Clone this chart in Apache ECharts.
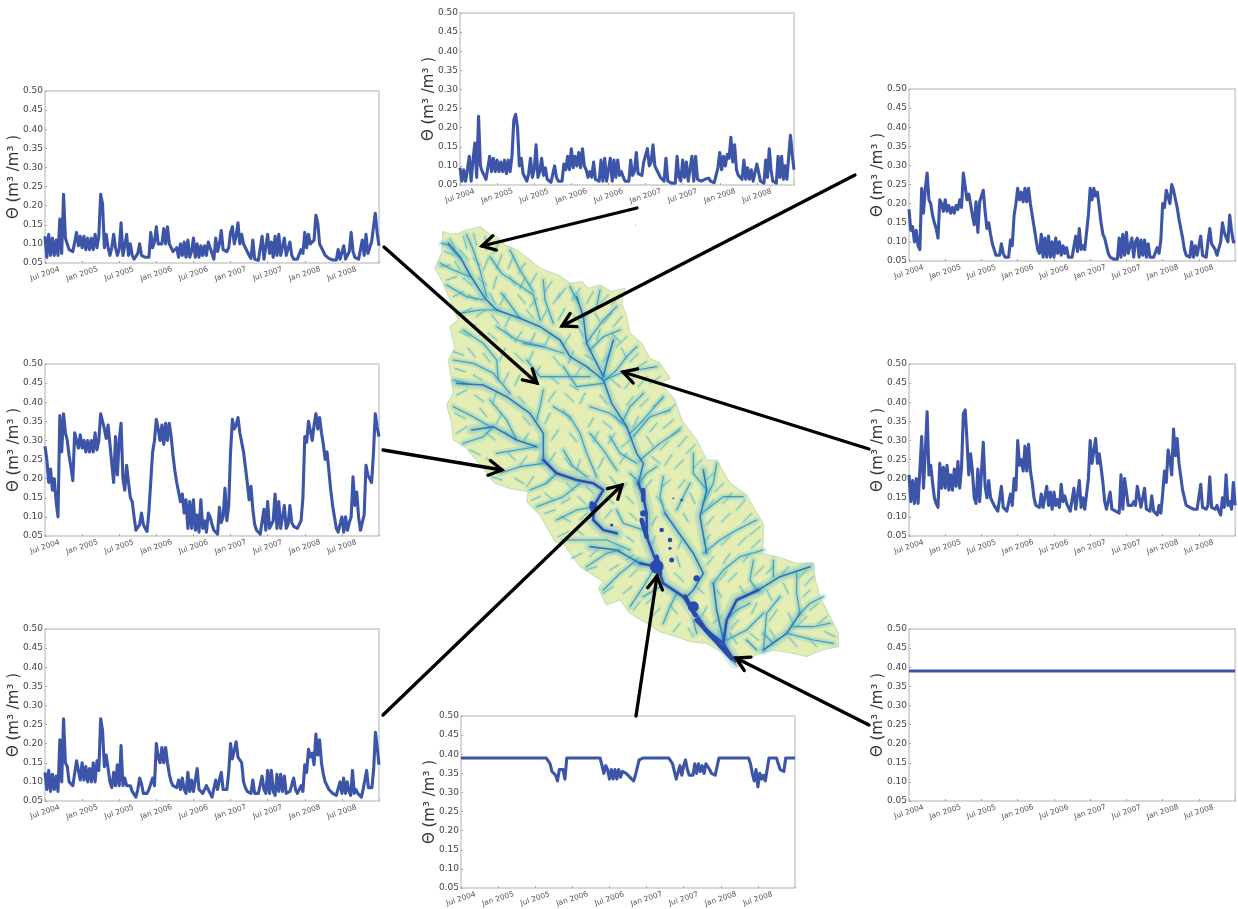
<!DOCTYPE html>
<html><head><meta charset="utf-8">
<style>html,body{margin:0;padding:0;background:#fff;overflow:hidden}#c{width:1238px;height:909px}</style>
<script src="https://cdn.jsdelivr.net/npm/echarts@6/dist/echarts.min.js"></script></head>
<body><div id="c"></div>
<script>
const tickLabels=['Jul 2004','Jan 2005','Jul 2005','Jan 2006','Jul 2006','Jan 2007','Jul 2007','Jan 2008','Jul 2008'];
const yName='Θ (m³ /m³ )';
// each series: one row per half-year, starting Jul 2004
const seriesTopLeft=[
[.12,.065,.125,.07,.115,.07,.11,.07,.165,.075,.23,.115,.115,.085,.08,.08,.085,.13,.095,.12],
[.09,.12,.085,.115,.085,.115,.085,.125,.09,.12,.23,.205,.09,.125,.09,.07,.09,.125,.09,.07],
[.085,.155,.07,.095,.125,.07,.10,.07,.06,.06,.075,.10,.07,.065,.065,.06,.065,.13,.09,.105],
[.145,.10,.105,.10,.14,.10,.145,.10,.09,.08,.075,.09,.065,.10,.07,.105,.065,.11,.065,.08],
[.115,.065,.10,.065,.095,.07,.095,.07,.105,.09,.075,.06,.115,.08,.10,.135,.085,.09,.08,.09],
[.13,.145,.10,.12,.155,.10,.125,.10,.09,.08,.07,.062,.11,.06,.057,.057,.057,.12,.06,.065],
[.125,.075,.105,.065,.12,.07,.125,.07,.065,.115,.07,.065,.105,.07,.06,.06,.06,.065,.085,.075],
[.13,.09,.125,.10,.105,.11,.175,.155,.10,.10,.08,.07,.065,.062,.06,.058,.058,.058,.085,.06],
[.06,.095,.06,.06,.08,.13,.08,.065,.06,.06,.058,.11,.07,.125,.075,.08,.105,.105,.18,.13,.095]];
const seriesTopMid=[
[.095,.06,.09,.06,.09,.125,.06,.115,.16,.07,.23,.10,.085,.075,.065,.062,.125,.085,.12,.085],
[.115,.085,.11,.085,.115,.08,.115,.085,.125,.22,.235,.20,.10,.12,.08,.07,.06,.08,.12,.07],
[.09,.155,.07,.085,.12,.075,.095,.065,.06,.057,.06,.10,.07,.06,.06,.06,.105,.09,.125,.09],
[.145,.095,.125,.10,.135,.095,.145,.10,.09,.07,.085,.07,.11,.065,.06,.06,.115,.06,.12,.06],
[.06,.12,.06,.115,.07,.115,.075,.085,.07,.06,.055,.06,.115,.075,.085,.135,.08,.08,.075,.11],
[.115,.145,.10,.11,.155,.10,.09,.08,.07,.065,.06,.12,.06,.057,.055,.055,.055,.125,.07,.06],
[.115,.07,.11,.06,.065,.125,.06,.125,.065,.065,.06,.062,.065,.062,.068,.06,.058,.056,.06,.095],
[.135,.09,.125,.10,.13,.12,.175,.11,.155,.09,.075,.07,.065,.115,.065,.095,.065,.09,.06,.06],
[.105,.11,.06,.06,.055,.115,.07,.145,.09,.06,.06,.055,.125,.07,.125,.065,.10,.065,.125,.18,.13,.09]];
const seriesMidLeft=[
[.285,.25,.19,.225,.17,.20,.14,.10,.365,.27,.37,.32,.30,.26,.23,.195,.32,.30,.28,.315],
[.28,.30,.27,.30,.27,.30,.27,.32,.275,.30,.37,.37,.33,.305,.34,.29,.24,.19,.31,.21],
[.30,.345,.20,.17,.235,.19,.15,.14,.10,.065,.06,.08,.11,.08,.07,.062,.115,.11,.27,.30],
[.355,.33,.30,.34,.29,.345,.30,.345,.31,.26,.22,.19,.165,.14,.16,.11,.145,.07,.14,.07],
[.145,.065,.105,.06,.145,.07,.09,.06,.11,.10,.08,.065,.06,.055,.125,.085,.10,.175,.09,.13],
[.27,.355,.33,.34,.36,.32,.325,.27,.23,.19,.145,.18,.12,.08,.065,.06,.055,.06,.12,.065],
[.14,.07,.075,.09,.16,.07,.14,.07,.065,.13,.07,.08,.13,.085,.075,.07,.07,.075,.09,.15],
[.31,.295,.35,.345,.30,.34,.37,.33,.36,.32,.29,.25,.27,.22,.17,.13,.10,.07,.06,.06],
[.10,.06,.10,.065,.085,.10,.205,.13,.165,.10,.065,.06,.105,.235,.21,.205,.19,.265,.37,.335,.31]];
const seriesBottomLeft=[
[.125,.08,.13,.075,.12,.08,.115,.075,.21,.10,.265,.15,.14,.10,.095,.09,.085,.155,.13,.105],
[.15,.105,.14,.10,.135,.10,.15,.10,.155,.13,.265,.235,.14,.17,.17,.10,.085,.125,.09,.145],
[.09,.195,.09,.11,.09,.085,.09,.075,.07,.06,.08,.11,.095,.07,.065,.07,.08,.075,.11,.09],
[.20,.165,.15,.19,.15,.19,.15,.12,.10,.09,.085,.085,.105,.08,.11,.08,.07,.125,.075,.105],
[.075,.075,.135,.08,.085,.07,.08,.09,.09,.07,.06,.065,.105,.08,.105,.125,.08,.085,.08,.125],
[.20,.16,.165,.205,.165,.16,.15,.10,.085,.075,.07,.07,.105,.07,.07,.07,.07,.115,.08,.07],
[.13,.07,.13,.075,.065,.12,.075,.12,.075,.115,.07,.075,.075,.075,.11,.08,.07,.075,.09,.075],
[.145,.125,.185,.165,.175,.145,.225,.17,.21,.15,.12,.10,.095,.08,.075,.07,.065,.065,.065,.10],
[.07,.11,.07,.10,.075,.065,.13,.07,.08,.07,.065,.06,.08,.08,.13,.085,.085,.085,.135,.23,.19,.145]];
const seriesTopRight=[
[.185,.13,.14,.10,.13,.09,.08,.24,.175,.24,.28,.21,.20,.17,.15,.135,.11,.21,.20,.18],
[.21,.18,.195,.175,.19,.175,.195,.185,.21,.19,.28,.275,.21,.225,.22,.17,.145,.205,.125,.205],
[.20,.235,.18,.135,.15,.12,.095,.08,.065,.06,.065,.095,.07,.06,.06,.06,.105,.09,.17,.20],
[.24,.21,.23,.205,.24,.205,.24,.20,.17,.14,.11,.08,.07,.12,.06,.11,.06,.115,.06,.10],
[.06,.11,.07,.10,.065,.09,.07,.085,.06,.055,.06,.06,.115,.075,.135,.08,.09,.08,.075,.17],
[.24,.21,.24,.22,.23,.19,.15,.12,.11,.115,.07,.06,.058,.055,.055,.055,.11,.06,.12,.065],
[.125,.07,.065,.11,.06,.10,.11,.06,.105,.065,.105,.06,.095,.06,.065,.06,.06,.085,.07,.105],
[.20,.19,.235,.23,.20,.25,.235,.24,.19,.16,.155,.11,.08,.065,.06,.06,.10,.06,.09,.065],
[.07,.115,.065,.07,.06,.10,.135,.095,.10,.08,.065,.06,.10,.15,.125,.12,.10,.17,.13,.10,.10]];
const seriesMidRight=[
[.21,.14,.195,.135,.20,.135,.13,.31,.175,.27,.375,.21,.235,.19,.15,.135,.125,.24,.175,.23],
[.175,.235,.17,.21,.17,.225,.18,.245,.175,.23,.37,.38,.30,.21,.265,.22,.15,.135,.225,.14],
[.14,.295,.18,.15,.195,.15,.14,.13,.125,.115,.115,.18,.125,.12,.115,.11,.16,.13,.20,.17],
[.30,.235,.25,.22,.285,.22,.29,.22,.19,.15,.13,.13,.125,.16,.125,.12,.18,.13,.165,.12],
[.165,.13,.145,.125,.185,.14,.155,.135,.125,.115,.11,.175,.12,.12,.195,.125,.15,.12,.115,.20],
[.30,.24,.235,.305,.24,.265,.23,.19,.14,.12,.12,.165,.12,.115,.115,.115,.11,.21,.12,.20],
[.20,.13,.125,.13,.14,.13,.18,.185,.125,.12,.175,.12,.125,.115,.155,.115,.11,.105,.13,.11],
[.16,.22,.19,.275,.25,.21,.33,.26,.305,.24,.24,.17,.15,.13,.135,.125,.12,.12,.115,.12],
[.125,.185,.125,.125,.12,.13,.205,.125,.125,.12,.13,.115,.105,.15,.125,.21,.13,.14,.12,.19,.13]];
const seriesBottomMid=[
[.39,.39,.39,.39],
[.39,.39,.39,.39],
[.39,.39,.39,.39,.39,.39,.39,.39,.375,.355,.35,.345,.33,.36,.355,.36,.335,.39,.39,.39],
[.39,.39,.39,.39,.39,.39,.39,.39,.39,.39,.39,.39,.39,.39,.39,.39,.37,.35,.37,.36],
[.335,.36,.335,.36,.335,.36,.34,.355,.355,.35,.345,.34,.335,.33,.345,.35,.385,.39,.39,.39],
[.39,.385,.39,.39,.39,.39,.39,.39,.39,.39,.39,.39,.39,.39,.375,.355,.335,.34,.37,.345],
[.37,.385,.36,.345,.35,.345,.375,.35,.375,.355,.37,.35,.375,.37,.36,.35,.345,.345,.34,.39],
[.39,.39,.39,.39,.39,.39,.39,.39,.39,.39,.39,.39,.39,.39,.39,.39,.375,.35,.33,.36],
[.315,.35,.335,.345,.33,.325,.39,.39,.39,.39,.39,.375,.36,.36,.355,.39,.39,.39,.39,.39,.39]];
const seriesBottomRight=[[.39],[.39],[.39],[.39],[.39],[.39],[.39],[.39],[.39,.39]];

// catchment map, in map units
const mapOutline=[[38,35],[60,42],[85,40],[110,30],[150,20],[175,40],[200,50],[225,75],[260,90],[300,120],[330,145],[385,165],[420,190],[455,185],[475,205],[510,195],[545,215],[585,205],[575,250],[590,290],[600,340],[635,370],[660,415],[690,430],[720,475],[690,490],[735,540],[755,600],[800,660],[830,720],[860,720],[900,790],[950,825],[975,870],[1000,910],[1000,970],[990,1000],[1040,1010],[1100,1030],[1150,1030],[1155,1075],[1170,1130],[1195,1180],[1225,1240],[1225,1280],[1175,1290],[1130,1310],[1090,1300],[1030,1290],[990,1300],[945,1320],[920,1340],[880,1300],[830,1270],[780,1265],[740,1250],[690,1235],[650,1210],[600,1180],[570,1140],[530,1155],[505,1105],[520,1085],[450,1040],[400,970],[375,965],[330,885],[290,845],[295,815],[240,805],[195,790],[160,745],[105,680],[70,660],[65,610],[50,555],[70,520],[65,480],[55,420],[75,385],[60,320],[85,300],[60,240],[40,190],[15,145],[35,100],[38,60]];
const riversThick=[[[680,1010],[690,1060]],[[765,1130],[795,1185]],[[485,850],[490,875]],[[640,810],[640,840]],[[635,900],[650,950]],[[800,1200],[905,1315]]];
const riversMain=[
[[625,790],[640,830],[650,880],[650,950],[680,1030],[700,1090],[760,1130],[790,1170],[830,1230],[880,1270],[915,1325]],
[[340,720],[380,760],[440,780],[490,790],[520,810],[490,860],[490,900],[520,930],[560,940]],
[[630,1030],[680,1040]],[[985,1110],[920,1140],[890,1200],[880,1270]]];
const riversSecondary=[
[[55,70],[90,110],[120,165],[165,235],[200,270],[270,295],[330,320],[390,360],[420,410],[470,440],[520,480],[545,550],[590,620],[620,700],[640,730],[625,790]],
[[80,490],[160,495],[230,530],[300,580],[340,640],[340,720]],[[125,630],[190,620],[260,660],[320,680]],
[[1140,1040],[1050,1070],[985,1110]],[[850,1090],[860,1170],[880,1260]],[[705,880],[740,930],[790,1000],[820,1060],[790,1110],[770,1130]],
[[820,750],[830,810],[810,890],[830,1000]],[[1110,1180],[1070,1240],[1000,1290]],[[480,980],[560,990],[630,1030]],
[[440,230],[460,290],[470,370],[520,470]],[[550,360],[530,430],[520,470]]];
const riversMinor=[
[[35,70],[55,75],[90,115]],[[30,130],[70,150],[120,170]],[[110,45],[130,90],[150,150],[170,230]],[[180,110],[215,160],[260,190],[310,225],[330,300]],[[240,90],[270,150],[310,215]],[[50,195],[110,230],[160,240]],[[90,280],[150,270],[205,270]],[[215,220],[245,260],[270,295]],[[340,180],[345,240],[370,310]],[[420,200],[440,240]],[[510,210],[500,260],[460,290]],[[560,260],[520,300],[490,340],[470,370]],[[570,330],[520,350],[480,390]],[[620,380],[590,410],[560,450],[525,480]],[[680,440],[620,450],[570,460],[525,480]],[[280,370],[340,380],[400,400]],[[200,320],[260,360],[340,380]],[[100,330],[160,370],[200,420],[205,480]],[[70,420],[130,430],[190,460],[240,520]],[[70,480],[110,490]],[[290,420],[330,470],[420,470],[480,470]],[[340,510],[330,560],[320,600]],[[400,440],[440,500],[520,490]],[[370,560],[420,590],[450,640],[470,700],[500,770]],[[480,560],[540,580],[590,620]],[[640,520],[600,560],[580,600]],[[720,570],[660,590],[610,650]],[[750,630],[690,670],[630,720]],[[700,530],[640,600],[600,640]],[[540,650],[570,700],[620,730]],[[480,640],[520,690],[560,750]],[[400,690],[430,740],[470,770]],[[70,560],[130,590],[180,620]],[[100,670],[160,650],[190,620]],[[200,700],[260,690],[320,680]],[[180,540],[230,600],[260,660]],[[210,760],[270,740],[340,730]],[[300,810],[350,790],[380,760]],[[320,860],[400,830],[450,790]],[[380,900],[440,870],[490,860]],[[400,960],[470,960],[530,960],[600,990]],[[470,1040],[530,1000],[570,990]],[[520,1110],[570,1060],[620,1020]],[[600,1160],[640,1100],[670,1050]],[[700,1210],[720,1160],[740,1120]],[[800,1240],[790,1200]],[[640,1130],[690,1100]],[[560,870],[580,910],[640,930]],[[600,760],[630,790]],[[680,740],[650,760],[625,790]],[[790,700],[790,760],[830,810]],[[860,730],[850,790],[820,850]],[[940,830],[880,830],[815,880]],[[980,900],[920,930],[870,960],[820,1000]],[[780,790],[760,830],[740,870]],[[700,770],[690,830],[705,880]],[[1000,990],[930,1010],[880,1050],[850,1090]],[[970,1020],[960,1080],[980,1110]],[[1030,1020],[1030,1070]],[[1100,1060],[1100,1120],[1110,1180]],[[1180,1130],[1140,1150],[1110,1180]],[[1200,1210],[1150,1220],[1090,1220]],[[1000,1180],[950,1230],[890,1260]],[[1050,1130],[1010,1180],[1000,1290]],[[960,1150],[920,1170],[900,1190]],[[1210,1270],[1150,1260],[1070,1240]],[[1000,1240],[1030,1270]],[[950,1260],[980,1290]]];
// short headwater channels: x1,y1,x2,y2 repeated
const twigs=[60,55,75,85,100,50,110,85,130,40,140,75,165,50,170,90,205,70,190,100,45,95,70,105,90,90,115,120,
30,140,60,135,75,125,90,150,130,115,150,135,175,115,160,150,215,105,200,145,250,110,235,145,285,130,265,160,
50,180,80,170,100,175,125,195,145,175,170,195,200,170,190,205,240,170,255,195,285,175,270,205,320,160,300,195,365,185,345,215,405,205,385,235,
70,230,100,215,115,225,140,240,180,220,195,250,225,225,210,255,265,225,285,250,320,235,300,260,390,220,370,250,450,205,425,240,490,215,470,250,535,225,510,250,570,225,545,255,
95,280,125,265,140,290,165,270,185,285,205,310,240,290,225,320,290,270,310,295,350,270,335,300,405,265,385,300,430,285,455,310,495,280,510,305,545,280,520,310,575,290,550,320,
90,335,120,350,135,315,150,345,175,340,200,360,225,330,245,355,275,335,255,365,315,340,300,370,360,345,345,375,420,345,400,375,445,320,460,350,510,330,500,360,545,340,570,365,590,350,560,380,
70,395,100,405,115,385,135,410,160,400,180,425,225,385,210,420,255,400,280,425,310,395,295,425,370,410,390,435,430,395,415,430,465,405,490,420,540,395,520,425,575,385,590,415,625,400,600,425,650,425,625,440,
75,445,105,455,130,465,155,480,235,460,220,490,270,465,255,495,330,440,310,470,360,470,385,490,420,495,445,510,455,440,435,470,545,480,570,500,610,475,585,505,650,470,625,500,690,470,660,490,
80,525,110,510,135,525,160,545,200,515,190,545,265,530,285,550,375,515,355,545,405,520,430,545,465,520,450,550,510,525,530,550,610,530,590,555,655,535,630,560,700,535,670,560,735,555,705,580,
75,580,105,595,150,565,170,590,215,580,200,610,280,590,300,615,360,580,345,610,400,570,420,600,490,595,475,620,520,605,545,625,555,585,570,610,625,590,610,620,680,610,660,635,730,600,700,625,755,620,725,645,
80,640,110,620,170,640,195,660,225,635,250,655,295,640,280,665,385,630,365,660,420,640,440,665,505,635,490,665,555,640,535,670,600,660,575,680,650,650,670,680,715,665,690,690,770,650,745,680,795,675,770,700,
120,690,150,705,170,715,195,730,235,700,255,720,290,710,270,735,375,700,355,730,405,715,425,740,450,720,440,750,520,715,505,745,590,700,570,730,665,710,690,730,725,705,705,735,760,720,735,745,815,720,790,745,
185,770,215,780,255,775,280,790,310,770,290,800,345,790,365,770,410,790,430,810,470,800,490,820,540,770,560,795,590,790,570,815,665,780,645,805,720,780,695,800,765,780,745,805,850,760,825,785,880,790,855,815,
305,840,330,830,345,820,370,840,395,850,420,835,445,830,465,850,530,830,550,850,590,830,610,850,680,830,700,855,780,820,795,850,850,840,830,870,905,820,880,850,945,840,920,870,
345,880,375,870,395,890,420,905,450,900,470,880,545,870,525,895,600,880,620,900,680,890,665,915,760,880,775,905,850,890,830,915,900,880,875,905,965,880,940,905,990,920,960,945,
385,950,415,935,440,930,460,945,590,950,610,965,675,950,665,975,755,960,745,985,840,945,820,970,900,950,875,975,950,950,925,975,990,960,965,985,
425,1015,455,1000,480,1010,505,985,590,1020,610,1005,740,1010,750,1040,850,1010,830,1035,900,1000,880,1030,960,1000,940,1025,1030,1040,1010,1060,
470,1050,500,1040,540,1050,565,1035,600,1070,620,1050,735,1060,760,1085,870,1080,890,1055,920,1060,895,1085,1000,1040,975,1065,1075,1040,1055,1065,1130,1050,1105,1075,1150,1070,1125,1095,
520,1120,550,1100,580,1120,605,1100,650,1150,675,1125,820,1120,800,1100,875,1130,860,1110,930,1100,950,1130,1010,1110,1025,1140,1060,1090,1075,1120,1140,1110,1120,1130,1165,1150,1140,1170,
610,1170,630,1145,665,1190,690,1165,740,1180,720,1155,830,1160,815,1190,850,1210,870,1190,925,1200,905,1225,980,1150,965,1180,1040,1170,1020,1200,1075,1180,1090,1210,1130,1190,1105,1215,1190,1190,1165,1210,
730,1235,750,1210,790,1250,775,1225,840,1255,820,1225,920,1270,900,1240,985,1260,960,1240,1040,1260,1020,1230,1100,1280,1080,1255,1160,1280,1135,1255,1215,1250,1185,1235];
const mapPools=[[680,1040,30],[790,1160,24],[490,860,18],[640,880,14],[800,1075,14],[695,930,10],[720,960,10],[725,1020,11],[720,985,7],[755,840,6],[730,835,4],[545,915,7],[617,15,2]];
// arrows: tail x, tail y, tip x, tip y
const arrows=[[637,208,482,246],[855,175,562,326],[384,247,537,383],[869,449,623,372],[383,450,502,470],[383,715,622,485],[636,716,657,576],[869,725,736,658]];

const panels=[
 {d:seriesTopLeft,l:45,t:91},{d:seriesTopMid,l:460,t:13},{d:seriesMidLeft,l:45,t:364},{d:seriesBottomLeft,l:45,t:629},
 {d:seriesTopRight,l:909,t:89},{d:seriesMidRight,l:909,t:364},{d:seriesBottomMid,l:461,t:716},{d:seriesBottomRight,l:909,t:629}];
const toPoints=rows=>rows.flatMap((row,k)=>row.map((v,j)=>[k+j/(k===rows.length-1?Math.max(row.length-1,1):row.length),v]));
const twigRows=[];for(let i=0;i+3<twigs.length;i+=4)twigRows.push([[twigs[i],twigs[i+1]],[twigs[i+2],twigs[i+3]]]);

const grid=[],xAxis=[],yAxis=[],series=[];
panels.forEach((p,i)=>{
 grid.push({left:p.l,top:p.t,width:334,height:172,show:true,borderColor:'#cccccc',borderWidth:1.5,backgroundColor:'#fff'});
 xAxis.push({gridIndex:i,type:'value',min:0,max:9,interval:1,splitLine:{show:false},axisLine:{show:false},
  axisTick:{show:true,inside:true,length:2,lineStyle:{color:'#aaa'}},
  axisLabel:{rotate:18,align:'center',verticalAlign:'middle',margin:11,fontSize:7.5,color:'#555',fontFamily:'DejaVu Sans',hideOverlap:false,formatter:v=>tickLabels[v]||''}});
 yAxis.push({gridIndex:i,type:'value',min:.05,max:.5,interval:.05,splitLine:{show:false},axisLine:{show:false},
  axisTick:{show:true,inside:true,length:2,lineStyle:{color:'#aaa'}},
  axisLabel:{margin:2,fontSize:9,color:'#444',fontFamily:'DejaVu Sans',formatter:v=>v.toFixed(2)},
  name:yName,nameLocation:'middle',nameGap:23,nameMoveOverlap:false,nameTextStyle:{fontSize:15,color:'#333',fontFamily:'DejaVu Sans'}});
 series.push({type:'line',xAxisIndex:i,yAxisIndex:i,data:toPoints(p.d),showSymbol:false,smooth:false,silent:true,lineStyle:{color:'#3c55a8',width:3.1,join:'round'},z:3});
});
// map grid (8) and page overlay grid (9)
grid.push({left:430,top:220,width:420,height:460,show:false});
xAxis.push({gridIndex:8,type:'value',min:0,max:1260,show:false});
yAxis.push({gridIndex:8,type:'value',min:0,max:1380,inverse:true,show:false});
grid.push({left:0,top:0,width:1238,height:909,show:false});
xAxis.push({gridIndex:9,type:'value',min:0,max:1238,show:false});
yAxis.push({gridIndex:9,type:'value',min:0,max:909,inverse:true,show:false});

series.push({type:'custom',xAxisIndex:8,yAxisIndex:8,silent:true,z:4,clip:false,data:mapOutline,encode:{x:0,y:1},
 renderItem:(params,api)=>params.dataIndex!==0?null:{type:'polygon',shape:{points:mapOutline.map(c=>api.coord(c))},style:{fill:'#e4edb4',stroke:'#c4e2bc',lineWidth:1.2}}});
const tier=(rows,color,width,opacity,z)=>({type:'lines',coordinateSystem:'cartesian2d',xAxisIndex:8,yAxisIndex:8,polyline:true,silent:true,z,clip:false,
 lineStyle:{color,width,opacity,cap:'round',join:'round'},data:rows.map(r=>({coords:r}))});
series.push(tier(twigRows,'#7accca',4,.22,5));
series.push(tier(riversMinor,'#6cc6cc',7,.22,5));
series.push(tier(riversMinor,'#62c0cc',3.5,.25,5));
series.push(tier(riversSecondary,'#5cbccc',11,.2,5));
series.push(tier(riversSecondary,'#50b0cc',6,.25,5));
series.push(tier(riversMain,'#4aa8cc',14,.2,5));
series.push(tier(riversMain,'#4098cc',7,.3,5));
series.push(tier(twigRows,'#5cb6c8',1,.9,6));
series.push(tier(riversMinor,'#3f9cc4',1.1,1,6));
series.push(tier(riversSecondary,'#2e78ba',1.6,1,7));
series.push(tier(riversMain,'#2a52b2',2.6,1,8));
series.push(tier(riversThick,'#2a4bae',4.5,1,9));
series.push({type:'scatter',xAxisIndex:8,yAxisIndex:8,silent:true,z:10,clip:false,data:mapPools,symbolSize:v=>v[2]/2.2,itemStyle:{color:'#2a4bae',opacity:1}});
series.push({type:'custom',xAxisIndex:9,yAxisIndex:9,silent:true,z:20,clip:false,data:arrows,encode:{x:[0,2],y:[1,3]},
 renderItem:(params,api)=>{
  const a=api.coord([api.value(0),api.value(1)]),b=api.coord([api.value(2),api.value(3)]);
  const ang=Math.atan2(a[1]-b[1],a[0]-b[0]),L=15,w=.52;
  const p1=[b[0]+L*Math.cos(ang+w),b[1]+L*Math.sin(ang+w)],p2=[b[0]+L*Math.cos(ang-w),b[1]+L*Math.sin(ang-w)];
  const st={stroke:'#000',lineWidth:3.3,fill:'none',lineCap:'round'};
  return {type:'group',children:[{type:'line',shape:{x1:a[0],y1:a[1],x2:b[0],y2:b[1]},style:st},{type:'polyline',shape:{points:[p1,b,p2]},style:st}]};
 }});
const chart=echarts.init(document.getElementById('c'),null,{renderer:'canvas'});
chart.setOption({animation:false,backgroundColor:'#fff',grid,xAxis,yAxis,series});
</script></body></html>
